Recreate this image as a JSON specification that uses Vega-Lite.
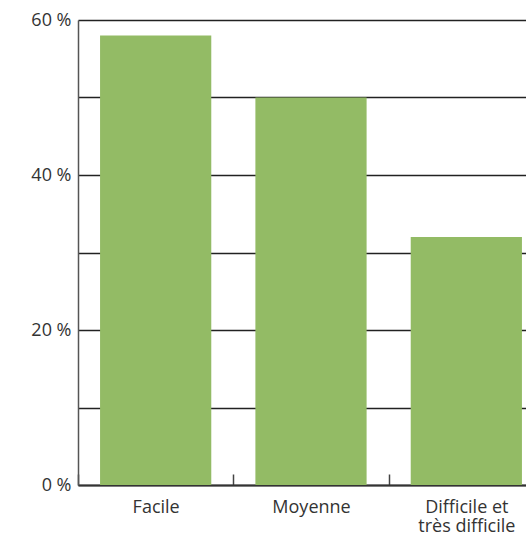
{
  "$schema": "https://vega.github.io/schema/vega-lite/v6.json",
  "autosize": {"type": "none"},
  "width": 448,
  "height": 465,
  "padding": {"left": 78, "top": 20, "right": 0, "bottom": 51},
  "background": "white",
  "config": {
    "view": {"stroke": null},
    "font": "Open Sans",
    "axis": {"labelFont": "Open Sans", "labelColor": "#333333", "labelFontSize": 18}
  },
  "data": {
    "values": [
      {"cat": "Facile", "pct": 58},
      {"cat": "Moyenne", "pct": 50},
      {"cat": "Difficile et très difficile", "pct": 32}
    ]
  },
  "mark": {"type": "bar", "color": "#93BB65", "width": {"band": 0.716}},
  "encoding": {
    "x": {
      "field": "cat",
      "type": "nominal",
      "sort": null,
      "scale": {"range": [0, 466], "paddingInner": 0, "paddingOuter": 0},
      "axis": {
        "title": null,
        "labelAngle": 0,
        "tickBand": "extent",
        "tickSize": -11,
        "tickColor": "#444444",
        "tickWidth": 1.5,
        "domainColor": "#333333",
        "domainWidth": 2,
        "labelPadding": 24,
        "labelLineHeight": 19,
        "labelBaseline": "top",
        "labelExpr": "datum.value == 'Difficile et très difficile' ? ['Difficile et', 'très difficile'] : datum.label"
      }
    },
    "y": {
      "field": "pct",
      "type": "quantitative",
      "scale": {"domain": [0, 60], "nice": false},
      "axis": {
        "title": null,
        "values": [0, 10, 20, 30, 40, 50, 60],
        "labelExpr": "datum.value % 20 == 0 ? datum.value + ' %' : ''",
        "ticks": false,
        "labelPadding": 7,
        "grid": true,
        "gridColor": "#222222",
        "gridWidth": 1.3,
        "gridOpacity": 1,
        "domainColor": "#555555",
        "domainWidth": 1.5
      }
    }
  }
}
